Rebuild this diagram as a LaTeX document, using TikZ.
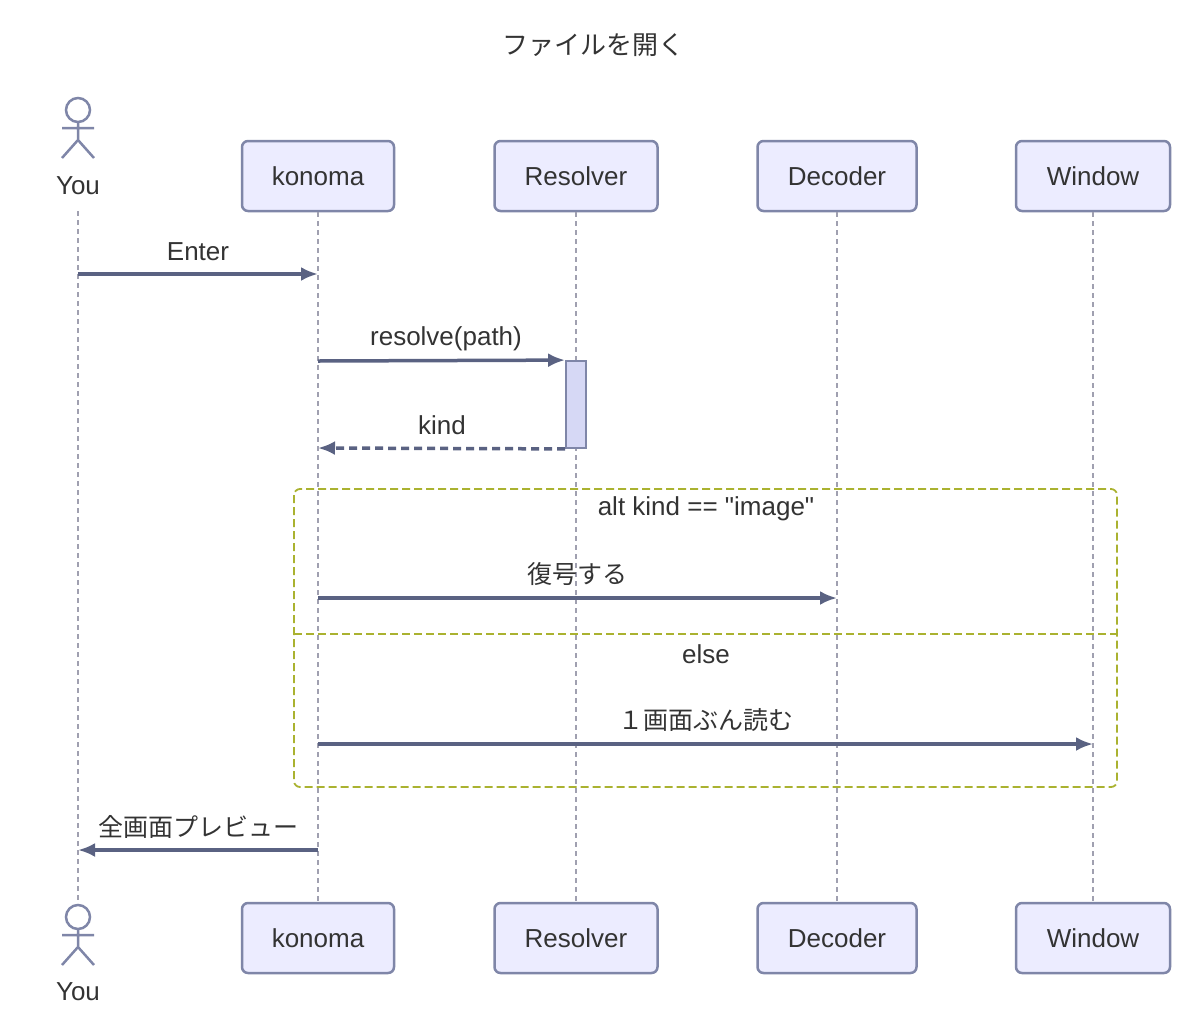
\documentclass[tikz,border=0pt]{standalone}
\usepackage{fontspec}
\setmainfont{Liberation Sans}
\newfontfamily\cjk{Noto Sans CJK JP}
\begin{document}
\begin{tikzpicture}[x=1pt,y=-1pt,
 box/.style={draw=boxc,fill=boxf,line width=2.5pt,rounded corners=6pt,minimum height=70pt,font=\fontsize{26}{30}\selectfont,text=txt},
 life/.style={draw=lifec,line width=1.5pt,dash pattern=on 5pt off 4pt},
 msg/.style={draw=arr,line width=3.5pt,-{Latex[length=17pt,width=14pt]}},
 lbl/.style={font=\fontsize{26}{30}\selectfont,text=txt},
 jl/.style={font=\cjk\fontsize{25}{30}\selectfont,text=txt}]
\usetikzlibrary{arrows.meta}
\definecolor{boxc}{HTML}{7F86A8}\definecolor{boxf}{HTML}{ECECFF}
\definecolor{lifec}{HTML}{A0A0B0}\definecolor{arr}{HTML}{5A6282}
\definecolor{txt}{HTML}{333333}\definecolor{altc}{HTML}{AAB230}
\definecolor{actf}{HTML}{D6D8F5}
\useasboundingbox (0,0) rectangle (1186,1034);
\node[jl,font=\cjk\fontsize{26}{30}\selectfont] (title) at (593,45) {ファイルを開く};
% actors
\foreach \n/\y in {top/110,bot/917}{
 \draw[draw=boxc,line width=2.5pt] (78,\y) circle (12);
 \draw[draw=boxc,line width=2.5pt] (78,\y+12) -- (78,\y+30) (62,\y+18) -- (94,\y+18) (62,\y+48) -- (78,\y+30) -- (94,\y+48);
}
\node[lbl] (youT) at (78,186) {You};
\node[lbl] (youB) at (78,992) {You};
\coordinate (you1) at (78,211); \coordinate (you2) at (78,903);
\foreach \nm/\t/\x/\w in {k/konoma/318/152,r/Resolver/576/163,d/Decoder/837/159,w/Window/1093/154}{
 \node[box,minimum width=\w pt] (\nm T) at (\x,176) {\t};
 \node[box,minimum width=\w pt] (\nm B) at (\x,938) {\t};
 \draw[life] (\nm T.south) -- (\nm B.north);
}
\draw[life] (you1) -- (you2);
% alt frame
\draw[altc,line width=1.8pt,dash pattern=on 8pt off 4pt,rounded corners=6pt] (294,489) rectangle (1117,787);
\draw[altc,line width=1.8pt,dash pattern=on 8pt off 4pt] (294,634) -- (1117,634);
\node[lbl] (altl) at (706,509) {alt kind == \textquotedbl image\textquotedbl};
\node[lbl] (elsel) at (706,654) {else};
% activation
\node[draw=boxc,fill=actf,line width=1.8pt,minimum width=20pt,minimum height=87pt,inner sep=0pt] (act) at (576,404.5) {};
% messages
\coordinate (a1) at (78,274); \coordinate (a2) at (318,274);
\draw[msg] (a1) -- (a2); \node[lbl] at (198,252) {Enter};
\coordinate (b1) at (318,361);
\draw[msg] (b1) -- (act.north west); \node[lbl] at (446,339) {resolve(path)};
\coordinate (c2) at (318,448);
\draw[msg,dash pattern=on 8pt off 5pt] (act.south west) -- (c2); \node[lbl] at (442,425) {kind};
\coordinate (d1) at (318,598); \coordinate (d2) at (837,598);
\draw[msg] (d1) -- (d2); \node[jl] at (577,574) {復号する};
\coordinate (e1) at (318,744); \coordinate (e2) at (1093,744);
\draw[msg] (e1) -- (e2); \node[jl] at (706,720) {１画面ぶん読む};
\coordinate (f1) at (318,850); \coordinate (f2) at (78,850);
\draw[msg] (f1) -- (f2); \node[jl] at (198,827) {全画面プレビュー};
\end{tikzpicture}
\end{document}
